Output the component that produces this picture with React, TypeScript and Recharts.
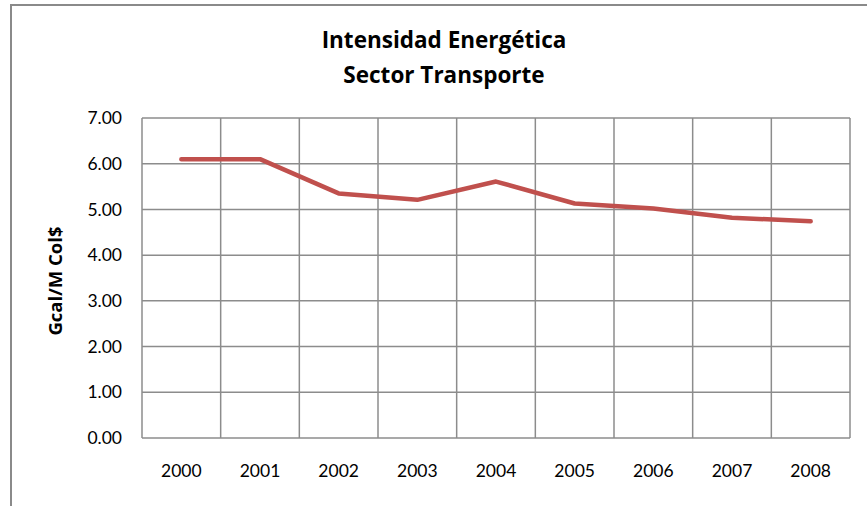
import React from "react";
import { LineChart, Line, XAxis, YAxis, CartesianGrid } from "recharts";

const years = ["2000", "2001", "2002", "2003", "2004", "2005", "2006", "2007", "2008"];
const intensity = [6.1, 6.1, 5.35, 5.21, 5.61, 5.13, 5.02, 4.82, 4.74];
const yTicks = [0, 1, 2, 3, 4, 5, 6, 7];
const titleLines = ["Intensidad Energética", "Sector Transporte"];
const yLabel = "Gcal/M Col$";

const data = years.map((y, i) => ({ year: y, value: intensity[i] }));

const FONT = "Lato, 'Open Sans', sans-serif";
const BOLD_FONT = "'Open Sans', Lato, sans-serif";
const GRID = "#8c8c8c";

export default function App() {
  const W = 867;
  const H = 506;
  return (
    <div style={{ position: "absolute", left: 0, top: 0, width: W, height: H, overflow: "hidden", background: "#fff" }}>
      <div
        style={{
          position: "absolute",
          left: 10,
          top: 4,
          width: W + 50,
          height: H + 50,
          border: "2px solid #8a8a8a",
          boxSizing: "border-box",
        }}
      />
      <div style={{ position: "absolute", left: 0, top: 0 }}>
        <LineChart
          width={W}
          height={H}
          data={data}
          margin={{ top: 118, right: 17, bottom: 38, left: 42 }}
        >
          <CartesianGrid
            stroke={GRID}
            strokeWidth={1.5}
            verticalCoordinatesGenerator={({ offset }: any) =>
              Array.from({ length: years.length + 1 }, (_, i) => offset.left + (i * offset.width) / years.length)
            }
          />
          <XAxis
            dataKey="year"
            scale="band"
            axisLine={false}
            tickLine={false}
            tickSize={0}
            tickMargin={27}
            height={30}
            interval={0}
            tick={{ fill: "#000", fontSize: 17.5, fontFamily: FONT }}
          />
          <YAxis
            domain={[0, 7]}
            ticks={yTicks}
            width={100}
            axisLine={false}
            tickLine={false}
            tickSize={0}
            tickMargin={20}
            tickFormatter={(v: number) => v.toFixed(2)}
            tick={{ fill: "#000", fontSize: 17.5, fontFamily: FONT }}
          />
          <Line
            type="linear"
            dataKey="value"
            stroke="#C0504D"
            strokeWidth={4.5}
            strokeLinecap="round"
            strokeLinejoin="round"
            dot={false}
            activeDot={false}
            isAnimationActive={false}
          />
        </LineChart>
      </div>
      <svg width={W} height={H} style={{ position: "absolute", left: 0, top: 0, pointerEvents: "none" }}>
        <text x={444} y={48} textAnchor="middle" fontFamily={BOLD_FONT} fontWeight="bold" fontSize={22.5} fill="#000">
          {titleLines[0]}
        </text>
        <text x={444} y={83} textAnchor="middle" fontFamily={BOLD_FONT} fontWeight="bold" fontSize={22.5} fill="#000">
          {titleLines[1]}
        </text>
        <text
          x={0}
          y={0}
          transform="translate(62,281) rotate(-90)"
          textAnchor="middle"
          fontFamily={BOLD_FONT}
          fontWeight="bold"
          fontSize={18.5}
          fill="#000"
        >
          {yLabel}
        </text>
      </svg>
    </div>
  );
}
